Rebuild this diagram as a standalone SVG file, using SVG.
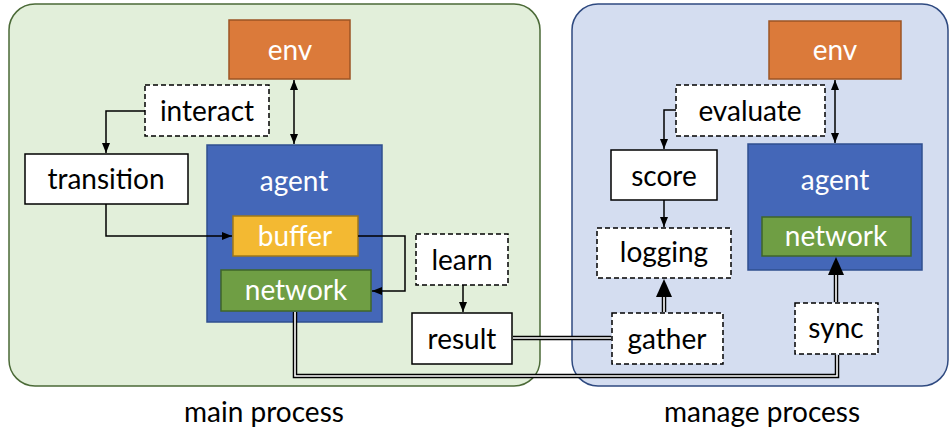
<svg xmlns="http://www.w3.org/2000/svg" width="951" height="435" viewBox="0 0 951 435">
<style>
text{font-family:Lato,"Liberation Sans",sans-serif;font-size:28px;text-anchor:middle}
.w{fill:#fff}.k{fill:#000}
.box{fill:#fff;stroke:#000;stroke-width:1.5}
.dash{fill:#fff;stroke:#000;stroke-width:1.5;stroke-dasharray:5,3}
.env{fill:#db7a3a;stroke:#9c5424;stroke-width:1.5}
.agent{fill:#4467b8;stroke:#2f4f8f;stroke-width:1.5}
.buf{fill:#f3b932;stroke:#a07818;stroke-width:1.5}
.net{fill:#6f9e44;stroke:#3f6628;stroke-width:1.5}
.ln{fill:none;stroke:#000;stroke-width:1.5}
.dbo{fill:none;stroke:#000;stroke-width:4.5}
.dbi{fill:none;stroke:#fff;stroke-width:1.6}
</style>
<defs>
<marker id="a" viewBox="0 0 10 10" refX="10" refY="5" markerWidth="10" markerHeight="10" markerUnits="userSpaceOnUse" orient="auto-start-reverse"><path d="M0,1 L10,5 L0,9 z" fill="#000"/></marker>
</defs>
<rect width="951" height="435" fill="#fff"/>
<g id="main-panel">
<rect x="9" y="4" width="531" height="382" rx="26" fill="#e2efda" stroke="#4b6a37" stroke-width="1.5"/>
<text x="264" y="422" class="k">main process</text>
</g>
<g id="manage-panel">
<rect x="572" y="4" width="376" height="382" rx="26" fill="#d4ddf0" stroke="#2f4a80" stroke-width="1.5"/>
<text x="762" y="422" class="k">manage process</text>
</g>
<g id="env1"><rect class="env" x="229" y="20" width="121" height="59"/><text x="290" y="60" class="w">env</text></g>
<g id="interact"><rect class="dash" x="145" y="85" width="124" height="51"/><text x="207" y="121" class="k">interact</text></g>
<g id="transition"><rect class="box" x="25" y="154" width="163" height="50"/><text x="106" y="189" class="k">transition</text></g>
<g id="agent1"><rect class="agent" x="207" y="145" width="175" height="177"/><text x="294" y="191" class="w">agent</text></g>
<g id="buffer"><rect class="buf" x="233" y="216" width="125" height="40"/><text x="295" y="246" class="w">buffer</text></g>
<g id="network1"><rect class="net" x="221" y="270" width="150" height="41"/><text x="296" y="300" class="w">network</text></g>
<g id="learn"><rect class="dash" x="416" y="234" width="92" height="51"/><text x="462" y="270" class="k">learn</text></g>
<g id="result"><rect class="box" x="412" y="313" width="100" height="51"/><text x="462" y="349" class="k">result</text></g>
<g id="env2"><rect class="env" x="769" y="21" width="132" height="58"/><text x="835" y="60" class="w">env</text></g>
<g id="evaluate"><rect class="dash" x="676" y="85" width="149" height="51"/><text x="750" y="121" class="k">evaluate</text></g>
<g id="score"><rect class="box" x="611" y="150" width="106" height="50"/><text x="664" y="186" class="k">score</text></g>
<g id="agent2"><rect class="agent" x="748" y="144" width="174" height="126"/><text x="835" y="190" class="w">agent</text></g>
<g id="network2"><rect class="net" x="762" y="217" width="149" height="39"/><text x="836" y="246" class="w">network</text></g>
<g id="logging"><rect class="dash" x="597" y="228" width="134" height="50"/><text x="664" y="262" class="k">logging</text></g>
<g id="gather"><rect class="dash" x="612" y="313" width="111" height="51"/><text x="667" y="349" class="k">gather</text></g>
<g id="sync"><rect class="dash" x="795" y="303" width="83" height="51"/><text x="836" y="338" class="k">sync</text></g>
<g id="connectors">
<path class="ln" d="M145,111 H106 V153" marker-end="url(#a)"/>
<path class="ln" d="M294,80 V144" marker-start="url(#a)" marker-end="url(#a)"/>
<path class="ln" d="M106,204 V236 H232" marker-end="url(#a)"/>
<path class="ln" d="M358,236 H405 V291 H372" marker-end="url(#a)"/>
<path class="ln" d="M463,285 V312" marker-end="url(#a)"/>
<path class="ln" d="M676,110 H664 V149" marker-end="url(#a)"/>
<path class="ln" d="M835,80 V143" marker-start="url(#a)" marker-end="url(#a)"/>
<path class="ln" d="M664,200 V227" marker-end="url(#a)"/>
<path class="dbo" d="M295,312 V376 H837 V355"/>
<path class="dbi" d="M295,312 V376 H837 V355"/>
<path class="dbo" d="M513,338 H611"/>
<path class="dbi" d="M513,338 H611"/>
<path class="dbo" d="M664,312 V296"/>
<path class="dbi" d="M664,312 V296"/>
<polygon points="656,297 672,297 664,279" fill="#000"/>
<path class="dbo" d="M836,302 V274"/>
<path class="dbi" d="M836,302 V274"/>
<polygon points="828,275 844,275 836,257" fill="#000"/>
</g>
</svg>
